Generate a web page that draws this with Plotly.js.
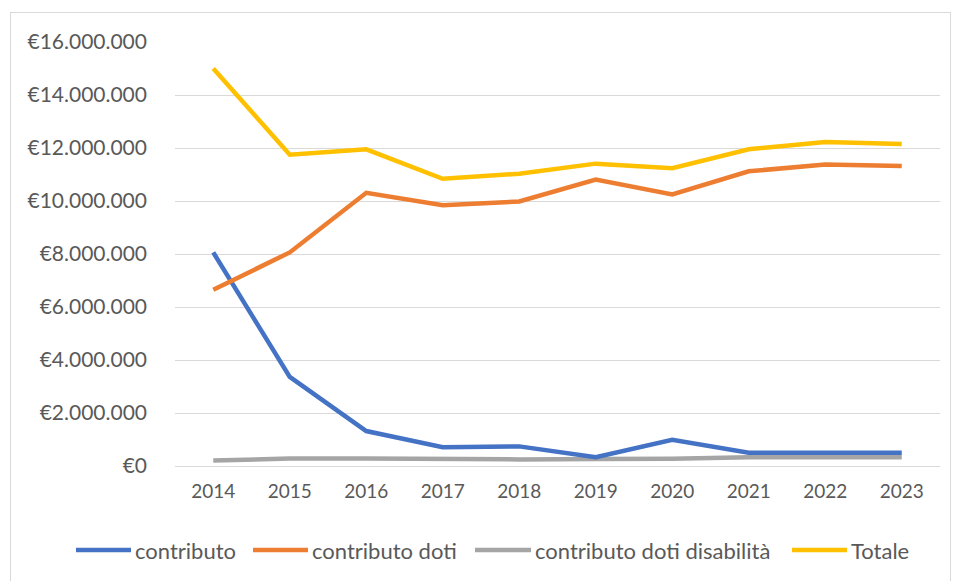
<!DOCTYPE html>
<html><head><meta charset="utf-8">
<script src="https://cdn.plot.ly/plotly-3.0.1.min.js"></script>
<style>
body{margin:0;background:#fff;}
#wrap{position:relative;width:955px;height:581px;}
#chart{position:absolute;left:0;top:0;width:955px;height:581px;}
#frame{position:absolute;left:10px;top:12px;width:941px;height:580px;border:1px solid #d9d9d9;box-sizing:border-box;pointer-events:none;}
</style></head>
<body><div id="wrap"><div id="chart"></div><div id="frame"></div></div>
<script>
const years = ['2014','2015','2016','2017','2018','2019','2020','2021','2022','2023'];
const contributo = [8060000,3360000,1320000,710000,740000,330000,990000,500000,500000,500000];
const contributoDoti = [6650000,8060000,10310000,9840000,9980000,10810000,10250000,11120000,11380000,11320000];
const contributoDotiDisabilita = [210000,280000,280000,250000,250000,260000,270000,330000,330000,330000];
const totale = [15000000,11750000,11950000,10840000,11030000,11410000,11240000,11950000,12230000,12150000];
const yTickVals = [0,2000000,4000000,6000000,8000000,10000000,12000000,14000000,16000000];
const yTickText = ['€0','€2.000.000','€4.000.000','€6.000.000','€8.000.000','€10.000.000','€12.000.000','€14.000.000','€16.000.000'];
const seriesNames = ['contributo','contributo doti','contributo doti disabilità','Totale'];

const colors = ['#4472c4','#ed7d31','#a5a5a5','#ffc000'];
const series = [contributo, contributoDoti, contributoDotiDisabilita, totale];
const order = [2,0,1,3];
const traces = order.map(i => ({
  x: years, y: series[i], name: seriesNames[i], type: 'scatter', mode: 'lines',
  line: {color: colors[i], width: 4.5, shape: 'linear'}, showlegend: false
}));

// custom legend (Excel-style long line samples)
const L = 175, W = 765, T = 42, H = 424;
const px = v => (v - L) / W;
const py = v => (T + H - v) / H;
const legY = 550;
const legLine = [[76,131],[253,308],[475,531],[792,847]];
const shapes = legLine.map((p, i) => ({
  type: 'line', xref: 'paper', yref: 'paper',
  x0: px(p[0]), x1: px(p[1]), y0: py(legY), y1: py(legY),
  line: {color: colors[i], width: 4.5}
}));
const annFont = {family: 'Lato, "Open Sans", sans-serif', size: 22, color: '#595959'};
const annotations = legLine.map((p, i) => ({
  xref: 'paper', yref: 'paper', x: px(p[1] + 2), y: py(legY),
  xanchor: 'left', yanchor: 'middle', showarrow: false,
  text: seriesNames[i], font: annFont
}));

Plotly.newPlot('chart', traces, {
  width: 955, height: 581,
  margin: {l: L, r: 955 - L - W, t: T, b: 581 - T - H},
  paper_bgcolor: '#fff', plot_bgcolor: '#fff',
  showlegend: false,
  shapes: shapes, annotations: annotations,
  xaxis: {type: 'category', range: [-0.5, 9.5], showgrid: false, showline: false,
          zeroline: false, ticks: '', ticklabelstandoff: 12,
          tickfont: {family: 'Lato, "Open Sans", sans-serif', size: 19, color: '#595959'}},
  yaxis: {range: [0, 16000000], tickvals: yTickVals, ticktext: yTickText,
          showgrid: true, gridcolor: '#d9d9d9', gridwidth: 1, zeroline: true,
          zerolinecolor: '#d9d9d9', zerolinewidth: 1, showline: false, ticks: '',
          ticklabelstandoff: 27,
          tickfont: {family: 'Lato, "Open Sans", sans-serif', size: 21, color: '#595959'}}
}, {displayModeBar: false, staticPlot: true});
</script></body></html>
